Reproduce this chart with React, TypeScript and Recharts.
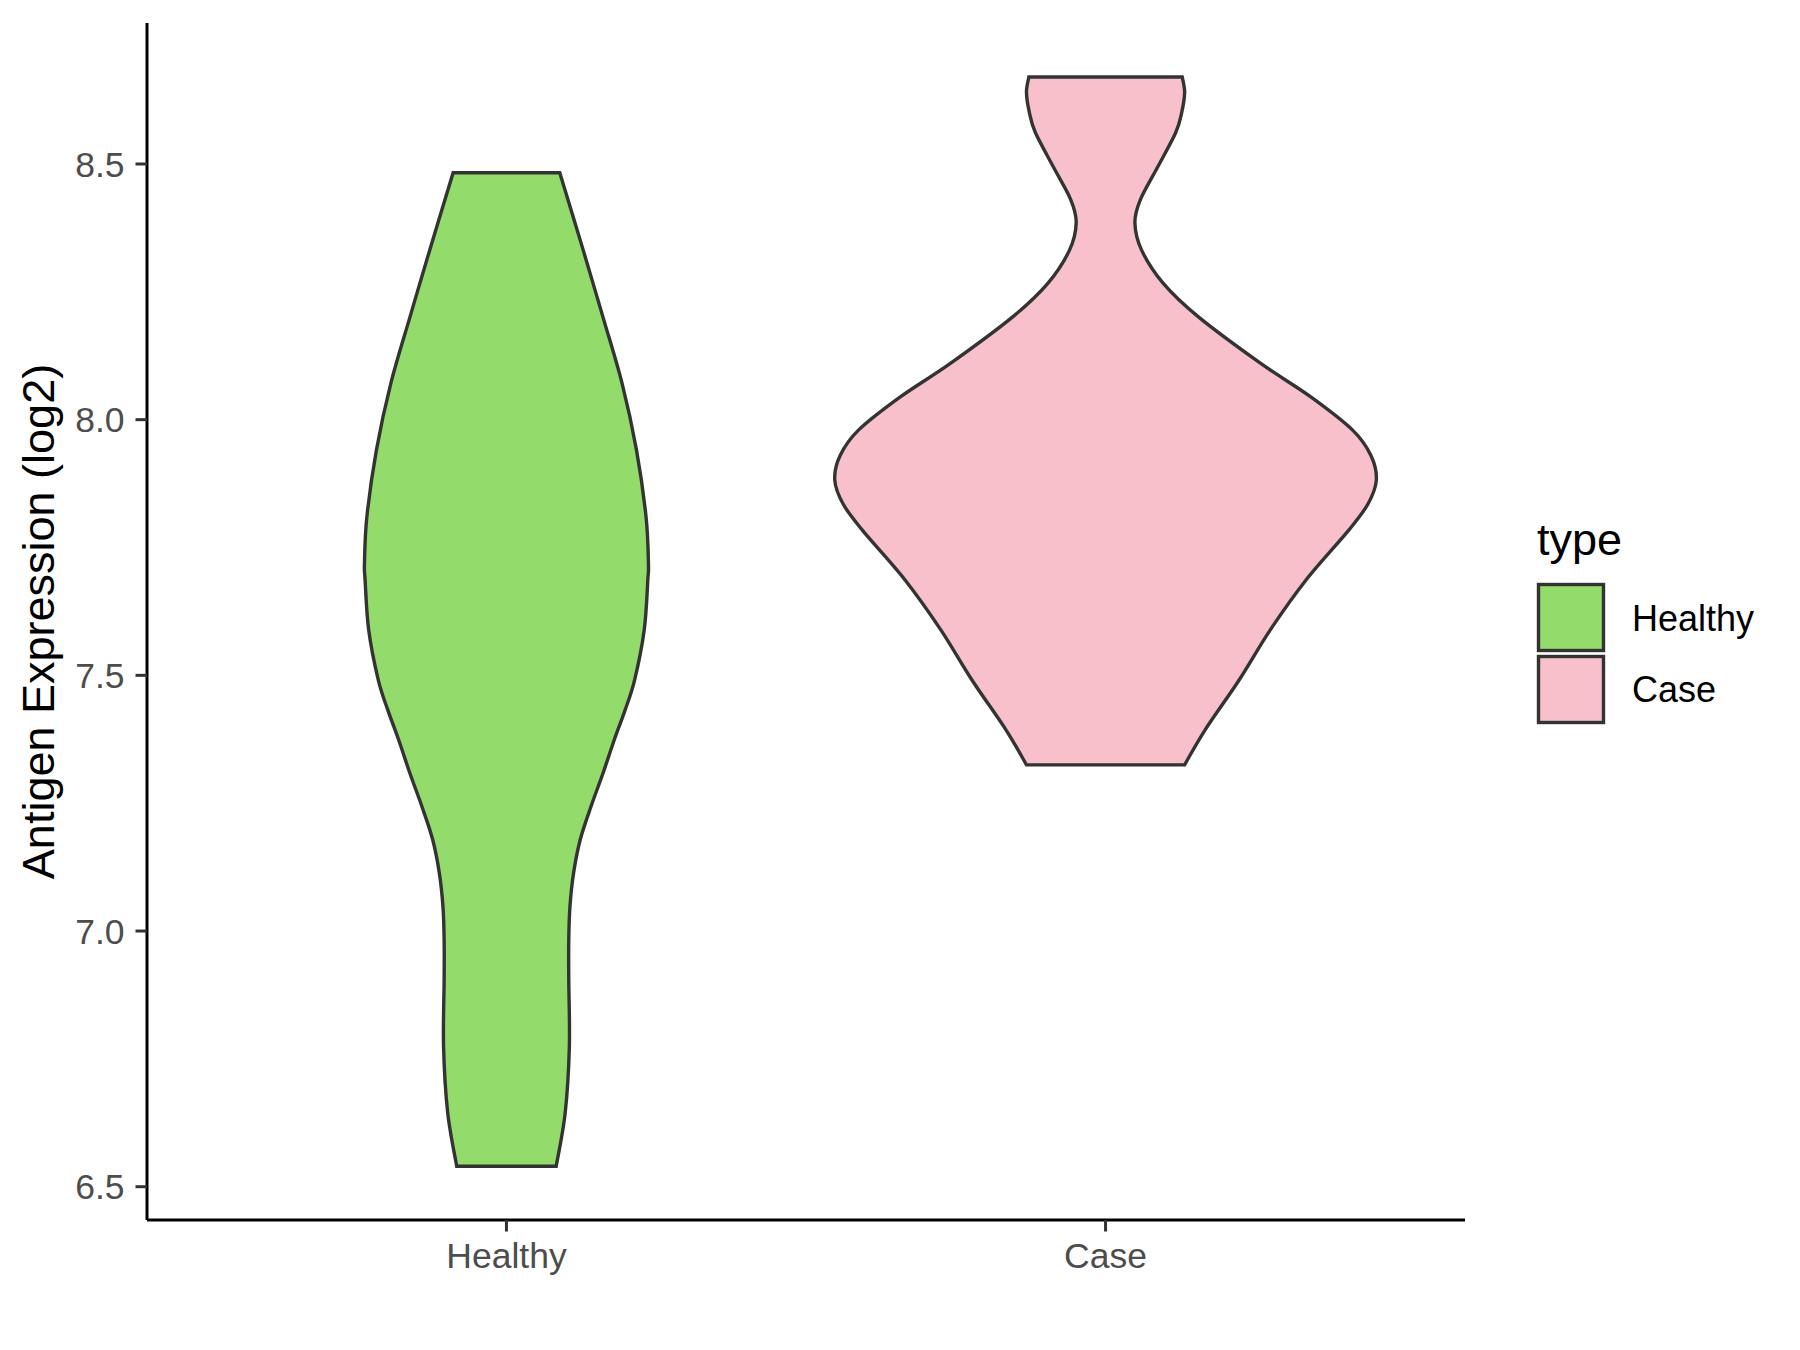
import React from 'react';
import { ScatterChart, Scatter, XAxis, YAxis, Legend } from 'recharts';

const categories = ['Healthy', 'Case'];
const yTicks = [6.5, 7.0, 7.5, 8.0, 8.5];

// violin outline: expression level (top -> bottom) and half width in category units
const healthyLevels = [8.483, 8.332, 8.201, 8.071, 7.941, 7.81, 7.72, 7.687, 7.589, 7.491, 7.432, 7.374, 7.308, 7.243, 7.178, 7.113, 7.048, 6.982, 6.905, 6.774, 6.644, 6.54];
const healthyHalfWidth = [0.089, 0.128, 0.161, 0.193, 0.217, 0.233, 0.237, 0.236, 0.23, 0.214, 0.198, 0.18, 0.161, 0.141, 0.123, 0.112, 0.106, 0.104, 0.104, 0.105, 0.098, 0.083];

const caseLevels = [8.67, 8.64, 8.6, 8.561, 8.494, 8.43, 8.385, 8.332, 8.267, 8.201, 8.11, 8.045, 7.98, 7.93, 7.882, 7.835, 7.784, 7.687, 7.589, 7.491, 7.393, 7.325];
const caseHalfWidth = [0.128, 0.132, 0.127, 0.117, 0.087, 0.058, 0.049, 0.06, 0.096, 0.155, 0.259, 0.342, 0.412, 0.443, 0.452, 0.438, 0.406, 0.335, 0.275, 0.223, 0.166, 0.132];

const colors: Record<string, string> = { Healthy: '#93DC6B', Case: '#F7C0CB' };
const font = '"Liberation Sans", Arial, sans-serif';

const outline = (center: number, levels: number[], widths: number[]) => {
  const left = levels.map((v, i) => ({ x: center - widths[i], y: v }));
  const right = levels.map((v, i) => ({ x: center + widths[i], y: v })).reverse();
  return [...left, ...right];
};

const healthyData = outline(1, healthyLevels, healthyHalfWidth);
const caseData = outline(2, caseLevels, caseHalfWidth);

type P = { x: number; y: number };

// catmull-rom through the points, as cubic segments
const smooth = (pts: P[]) => {
  let d = '';
  for (let i = 0; i < pts.length - 1; i++) {
    const p0 = pts[i - 1] || pts[i];
    const p1 = pts[i];
    const p2 = pts[i + 1];
    const p3 = pts[i + 2] || p2;
    const c1x = p1.x + (p2.x - p0.x) / 6;
    const c1y = p1.y + (p2.y - p0.y) / 6;
    const c2x = p2.x - (p3.x - p1.x) / 6;
    const c2y = p2.y - (p3.y - p1.y) / 6;
    d += ` C${c1x},${c1y} ${c2x},${c2y} ${p2.x},${p2.y}`;
  }
  return d;
};

const violin = (fill: string) => (props: any) => {
  const pts: P[] = props.points || [];
  const n = pts.length / 2;
  const left = pts.slice(0, n);
  const right = pts.slice(n);
  const d = `M${left[0].x},${left[0].y}` + smooth(left) + ` L${right[0].x},${right[0].y}` + smooth(right) + ' Z';
  return <path d={d} fill={fill} stroke="#333333" strokeWidth={3.4} />;
};

const noDot = () => <g />;

const renderLegend = (props: any) => {
  const payload = [...(props.payload || [])].sort(
    (a: any, b: any) => categories.indexOf(a.value) - categories.indexOf(b.value)
  );
  return (
    <svg width={260} height={250} style={{ overflow: 'visible' }}>
      <text x={0} y={67} fontSize={45} fontFamily={font} fill="#000">type</text>
      {payload.map((entry: any, i: number) => (
        <g key={entry.value}>
          <rect x={1.5} y={96.5 + i * 72} width={65} height={66} fill={colors[entry.value] || entry.color} stroke="#333333" strokeWidth={3.4} />
          <text x={95} y={143 + i * 71} fontSize={36} fontFamily={font} fill="#000">{entry.value}</text>
        </g>
      ))}
    </svg>
  );
};

export default function App() {
  return (
    <ScatterChart width={1784} height={1334} margin={{ top: 15, right: 327, bottom: 62, left: 0 }}>
      <XAxis
        type="number"
        dataKey="x"
        domain={[0.4, 2.6]}
        ticks={[1, 2]}
        allowDataOverflow
        tickFormatter={(v: number) => categories[Math.round(v) - 1]}
        height={60}
        axisLine={{ stroke: '#000', strokeWidth: 3 }}
        tickLine={{ stroke: '#333333', strokeWidth: 3 }}
        tickSize={11.5}
        tickMargin={11}
        tick={{ fill: '#4D4D4D', fontSize: 35.5, fontFamily: font }}
      />
      <YAxis
        type="number"
        dataKey="y"
        domain={[6.4349, 8.7757]}
        ticks={yTicks}
        allowDataOverflow
        tickFormatter={(v: number) => v.toFixed(1)}
        width={139}
        axisLine={{ stroke: '#000', strokeWidth: 3 }}
        tickLine={{ stroke: '#333333', strokeWidth: 3 }}
        tickSize={11.5}
        tickMargin={11}
        tick={{ fill: '#4D4D4D', fontSize: 35.5, fontFamily: font }}
        label={{
          value: 'Antigen Expression (log2)',
          angle: -90,
          position: 'insideLeft',
          offset: 30,
          style: { textAnchor: 'middle', fill: '#000', fontSize: 45, fontFamily: font },
        }}
      />
      <Legend
        layout="horizontal"
        verticalAlign="middle"
        align="center"
        content={renderLegend}
        wrapperStyle={{ left: 1529, top: 480, width: 260, height: 250 }}
      />
      <Scatter name="Healthy" data={healthyData} fill={colors.Healthy} line={violin(colors.Healthy)} shape={noDot} isAnimationActive={false} />
      <Scatter name="Case" data={caseData} fill={colors.Case} line={violin(colors.Case)} shape={noDot} isAnimationActive={false} />
    </ScatterChart>
  );
}
